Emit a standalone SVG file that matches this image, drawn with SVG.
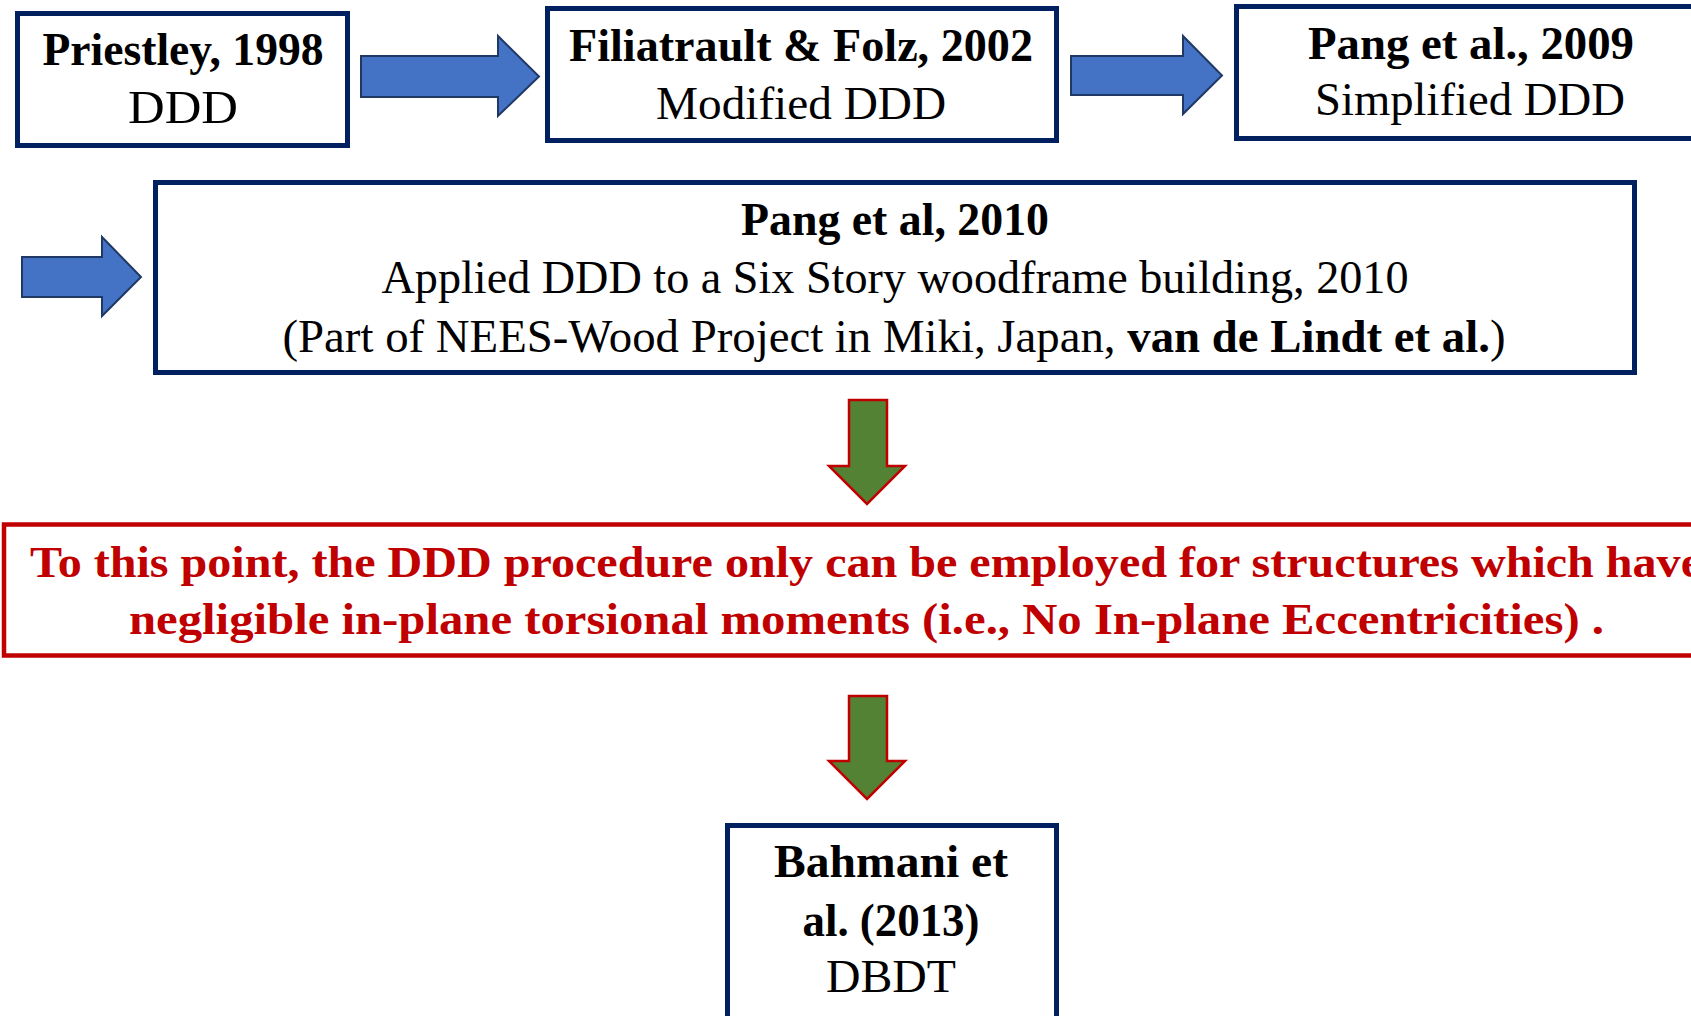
<svg xmlns="http://www.w3.org/2000/svg" width="1691" height="1016" viewBox="0 0 1691 1016">
<style>
.box{fill:#fff;stroke:#002060;stroke-width:5}
.rbox{fill:#fff;stroke:#C00000;stroke-width:4.5}
.t{font-family:"Liberation Serif",serif;font-size:46px;fill:#000;text-anchor:middle}
.b{font-weight:bold}
.r{font-family:"Liberation Serif",serif;font-size:44px;font-weight:bold;fill:#C00000}
.ba{fill:#4472C4;stroke:#1F3864;stroke-width:2;stroke-linejoin:miter}
.ga{fill:#548235;stroke:#C00000;stroke-width:2.5;stroke-linejoin:miter}
</style>
<rect width="1691" height="1016" fill="#fff"/>
<g id="connectors">
<polygon class="ba" points="361,56 498,56 498,36 539,76.5 498,116 498,97 361,97"/>
<polygon class="ba" points="1071,56 1183,56 1183,36 1222,75.5 1183,114 1183,95 1071,95"/>
<polygon class="ba" points="22,257 102,257 102,237 141,277 102,316 102,297 22,297"/>
<polygon class="ga" points="849,400 887,400 887,466 905,466 867,504 829,466 849,466"/>
<polygon class="ga" points="849,696 887,696 887,761 905,761 867,799 829,761 849,761"/>
</g>
<g id="priestley">
<rect class="box" x="17.5" y="13.5" width="330" height="132"/>
<text class="t b" x="183" y="65" textLength="281" lengthAdjust="spacingAndGlyphs">Priestley, 1998</text>
<text class="t" x="183" y="123" textLength="110" lengthAdjust="spacingAndGlyphs">DDD</text>
</g>
<g id="filiatrault">
<rect class="box" x="547.5" y="8.5" width="509" height="132"/>
<text class="t b" x="801" y="61" textLength="464" lengthAdjust="spacingAndGlyphs">Filiatrault &amp; Folz, 2002</text>
<text class="t" x="801" y="119" textLength="290" lengthAdjust="spacingAndGlyphs">Modified DDD</text>
</g>
<g id="pang2009">
<rect class="box" x="1236.5" y="6.5" width="500" height="132"/>
<text class="t b" x="1471" y="59" textLength="326" lengthAdjust="spacingAndGlyphs">Pang et al., 2009</text>
<text class="t" x="1470" y="115" textLength="310" lengthAdjust="spacingAndGlyphs">Simplified DDD</text>
</g>
<g id="pang2010">
<rect class="box" x="155.5" y="182.5" width="1479" height="190"/>
<text class="t b" x="895" y="235" textLength="308" lengthAdjust="spacingAndGlyphs">Pang et al, 2010</text>
<text class="t" x="895" y="293" textLength="1027" lengthAdjust="spacingAndGlyphs">Applied DDD to a Six Story woodframe building, 2010</text>
<text class="t" x="894" y="352" textLength="1223" lengthAdjust="spacingAndGlyphs">(Part of  NEES-Wood Project in Miki, Japan, <tspan class="b">van de Lindt et al.</tspan>)</text>
</g>
<g id="limitation">
<rect class="rbox" x="4" y="524.5" width="1760" height="131"/>
<text class="r" x="30" y="577" textLength="1672" lengthAdjust="spacingAndGlyphs">To this point, the DDD procedure only can be employed for structures which have</text>
<text class="r" x="129" y="634" textLength="1475" lengthAdjust="spacingAndGlyphs">negligible in-plane torsional moments (i.e., No In-plane Eccentricities) .</text>
</g>
<g id="bahmani">
<rect class="box" x="727.5" y="825.5" width="329" height="230"/>
<text class="t b" x="891" y="877" textLength="234" lengthAdjust="spacingAndGlyphs">Bahmani et</text>
<text class="t b" x="891" y="936" textLength="177" lengthAdjust="spacingAndGlyphs">al. (2013)</text>
<text class="t" x="891" y="992" textLength="130" lengthAdjust="spacingAndGlyphs">DBDT</text>
</g>
</svg>
